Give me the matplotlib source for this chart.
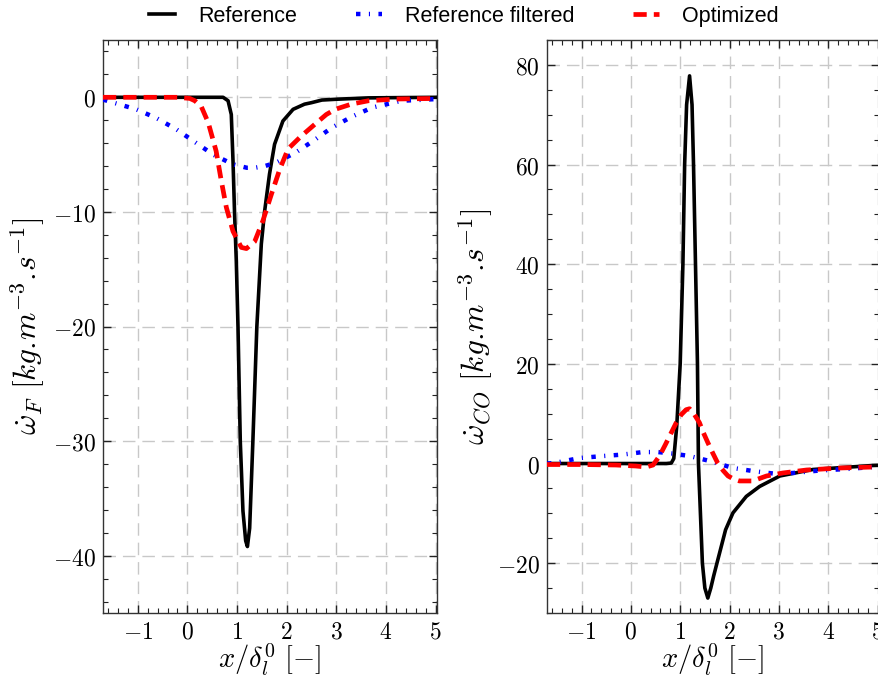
import matplotlib
matplotlib.use("Agg")
import matplotlib.pyplot as plt
from matplotlib.ticker import AutoMinorLocator, FuncFormatter, MultipleLocator

plt.rcParams['mathtext.fontset'] = 'cm'

# omega_F (left panel)
xF_ref = [-1.70, 0.72, 0.82, 0.885, 0.92, 0.95, 0.986, 1.02, 1.066, 1.12, 1.175, 1.21,
          1.255, 1.32, 1.40, 1.49, 1.555, 1.655, 1.757, 1.925, 2.13, 2.36, 2.50, 2.71, 3.00, 3.65, 5.05]
yF_ref = [0, 0, -0.3, -1.5, -5.6, -10, -14.3, -20, -30, -36.1, -38.7, -39.2,
          -37.6, -30, -20, -12.8, -10, -6.7, -4.1, -2.07, -1.05, -0.6, -0.47, -0.24, -0.17, -0.05, 0]

xF_filt = [-1.70, -1.03, -0.63, -0.22, 0.15, 0.52, 0.92, 1.20, 1.36, 1.56, 1.79, 2.19, 2.57,
           2.91, 3.31, 3.72, 4.32, 5.05]
yF_filt = [-0.2, -1.05, -1.8, -2.8, -3.9, -5.0, -5.85, -6.15, -6.15, -6.0, -5.7, -4.8, -3.7,
           -2.65, -1.7, -0.9, -0.3, -0.15]

xF_opt = [-1.70, -0.20, 0.05, 0.15, 0.28, 0.42, 0.58, 0.68, 0.785, 0.92, 1.087, 1.19, 1.355,
          1.52, 1.69, 1.86, 2.03, 2.29, 2.61, 2.80, 2.98, 3.30, 3.65, 4.20, 5.05]
yF_opt = [0, 0, -0.1, -0.3, -0.8, -2.2, -4.7, -7.2, -9.6, -11.7, -13.1, -13.2, -12.6,
          -10.8, -8.5, -6.3, -4.5, -3.4, -2.2, -1.5, -1.05, -0.6, -0.3, -0.15, -0.1]

# omega_CO (right panel)
xCO_ref = [-1.70, 0.72, 0.82, 0.87, 0.93, 1.00, 1.055, 1.09, 1.13, 1.19, 1.24, 1.27, 1.31, 1.35,
           1.37, 1.41, 1.45, 1.50, 1.56, 1.62, 1.68, 1.745, 1.92, 2.07, 2.34, 2.61, 3.02, 3.69, 4.90, 5.05]
yCO_ref = [0, 0, 0.1, 1.0, 7.5, 20, 40, 60, 72, 77.8, 72, 60, 40, 20,
           0, -10, -20, -25, -27, -25, -22.5, -20, -13.3, -9.9, -6.6, -4.6, -2.5, -1.2, -0.4, -0.35]

xCO_filt = [-1.70, -1.55, -1.04, -0.57, -0.16, 0.24, 0.55, 0.85, 1.19, 1.60, 2.07, 2.47, 2.88,
            3.29, 3.83, 4.37, 4.90, 5.05]
yCO_filt = [0.0, 0.1, 1.1, 1.5, 1.8, 2.3, 2.3, 2.0, 1.5, 0.5, -0.9, -1.5, -2.0,
            -1.9, -1.4, -1.1, -0.7, -0.65]

xCO_opt = [-1.70, -1.00, -0.30, 0.10, 0.31, 0.45, 0.58, 0.70, 0.82, 0.92, 1.02, 1.12, 1.19, 1.29,
           1.39, 1.47, 1.56, 1.66, 1.76, 1.87, 1.97, 2.08, 2.20, 2.47, 2.75, 3.08, 3.56, 4.23, 4.91, 5.05]
yCO_opt = [-0.2, -0.2, -0.3, -0.5, -0.7, -0.3, 1.5, 3.8, 6.2, 8.2, 9.8, 10.8, 11.0, 9.8,
           8.2, 6.2, 4.2, 2.1, 0.1, -1.4, -2.5, -3.1, -3.5, -3.5, -2.5, -1.9, -1.3, -0.9, -0.7, -0.65]

labels = ['Reference', 'Reference filtered', 'Optimized']

fig = plt.figure(figsize=(8.79, 6.79), dpi=100)
W, H = 879.0, 679.0
ax1 = fig.add_axes([103 / W, 1 - 613 / H, 334 / W, 573 / H])
ax2 = fig.add_axes([547 / W, 1 - 613 / H, 332 / W, 573 / H])

blue_ls = (0, (1, 1.9, 0.25, 1.9))
red_ls = (0, (2.8, 1.5))

# "\!" cancels the thin space mathtext puts after a dot
panels = [
    (ax1, xF_ref, yF_ref, xF_filt, yF_filt, xF_opt, yF_opt, (-45, 5), 10, 5,
     r'$\dot{\omega}_F\ [kg.\!m^{-3}.\!s^{-1}]$', 4),
    (ax2, xCO_ref, yCO_ref, xCO_filt, yCO_filt, xCO_opt, yCO_opt, (-30, 85), 20, 4,
     r'$\dot{\omega}_{CO}\ [kg.\!m^{-3}.\!s^{-1}]$', 1),
]

for ax, xr, yr, xf, yf, xo, yo, ylim, ystep, yminor, ylab, lpad in panels:
    ax.plot(xr, yr, color='black', lw=2.6, label=labels[0], zorder=3)
    ax.plot(xf, yf, color='blue', lw=3.2, linestyle=blue_ls, label=labels[1], zorder=4)
    ax.plot(xo, yo, color='red', lw=3.4, linestyle=red_ls, label=labels[2], zorder=5)
    ax.set_xlim(-1.7, 5.03)
    ax.set_ylim(*ylim)
    ax.xaxis.set_major_locator(MultipleLocator(1))
    ax.xaxis.set_minor_locator(AutoMinorLocator(5))
    ax.yaxis.set_major_locator(MultipleLocator(ystep))
    ax.yaxis.set_minor_locator(AutoMinorLocator(yminor))
    fmt = FuncFormatter(lambda v, p: r'$%d$' % round(v))
    ax.xaxis.set_major_formatter(fmt)
    ax.yaxis.set_major_formatter(fmt)
    ax.grid(True, which='major', color='#c8c8c8', lw=1.0, linestyle=(0, (9, 5)), zorder=0)
    ax.tick_params(which='both', direction='in', top=True, right=True, color='#222222')
    ax.tick_params(which='major', length=6, width=1.0, labelsize=17, pad=5)
    ax.tick_params(which='minor', length=3.5, width=0.8)
    for sp in ax.spines.values():
        sp.set_linewidth(1.0)
        sp.set_color('#333333')
    ax.set_xlabel(r'$x/\delta_l^0\ [-]$', fontsize=20.5, labelpad=-1.5)
    ax.set_ylabel(ylab, fontsize=22.5, labelpad=lpad)

handles, labs = ax1.get_legend_handles_labels()
fig.legend(handles, labs, loc='center', bbox_to_anchor=(0.528, 0.976), ncol=3, frameon=False,
           prop={'family': 'Liberation Sans', 'size': 15.5}, handlelength=1.2,
           handletextpad=1.1, columnspacing=2.7)

fig.savefig('out.png', dpi=100)
